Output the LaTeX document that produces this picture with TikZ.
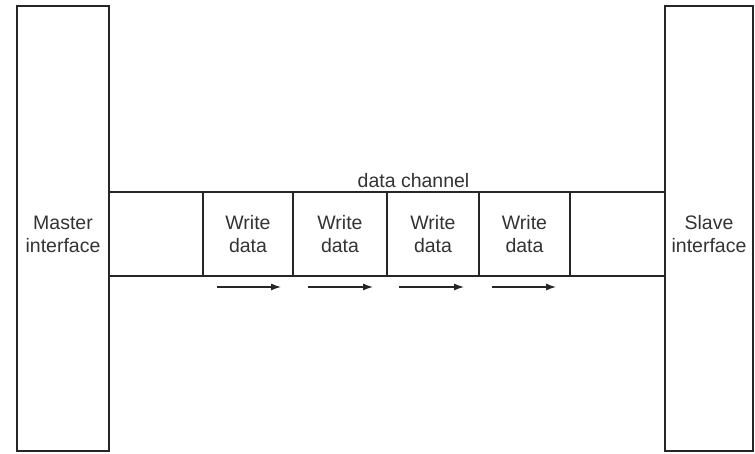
\documentclass[tikz,border=0pt]{standalone}
\usepackage{fontspec}
\setmainfont{Liberation Sans}
\usetikzlibrary{arrows.meta}
\begin{document}
\begin{tikzpicture}[x=1pt,y=1pt,
  txt/.style={text=black!80,align=center,font=\fontsize{19.5}{23}\selectfont,inner sep=0pt},
  frame/.style={txt,draw=black!85,line width=1.8pt},
  cell/.style={frame,minimum height=84pt},
  flow/.style={draw=black!85,line width=1.2pt,-{Latex[length=10pt,width=7pt]}}]
\useasboundingbox (0,0) rectangle (755,453);
% interface blocks
\node[frame,minimum width=92pt,minimum height=445pt] (master) at (63,224.5) {};
\node[frame,minimum width=88pt,minimum height=445pt] (slave) at (709,224.5) {};
% data channel slots
\node[cell,minimum width=94pt] (c1) at (156,219) {};
\node[cell,minimum width=90pt] (c2) at (248,219) {Write\\data};
\node[cell,minimum width=94pt] (c3) at (340,219) {Write\\data};
\node[cell,minimum width=92pt] (c4) at (433,219) {Write\\data};
\node[cell,minimum width=91pt] (c5) at (524.5,219) {Write\\data};
\node[cell,minimum width=95pt] (c6) at (617.5,219) {};
% labels
\node[txt] (mlabel) at (master.center |- c1.center) {Master\\interface};
\node[txt] (slabel) at (slave.center |- c6.center) {Slave\\interface};
\node[txt] (title) at (413.5,272) {data channel};
% direction of transfer
\coordinate (a1s) at (217,166); \coordinate (a1e) at (281,166);
\coordinate (a2s) at (308,166); \coordinate (a2e) at (373,166);
\coordinate (a3s) at (399,166); \coordinate (a3e) at (464,166);
\coordinate (a4s) at (492,166); \coordinate (a4e) at (556,166);
\draw[flow] (a1s) -- (a1e);
\draw[flow] (a2s) -- (a2e);
\draw[flow] (a3s) -- (a3e);
\draw[flow] (a4s) -- (a4e);
\end{tikzpicture}
\end{document}
